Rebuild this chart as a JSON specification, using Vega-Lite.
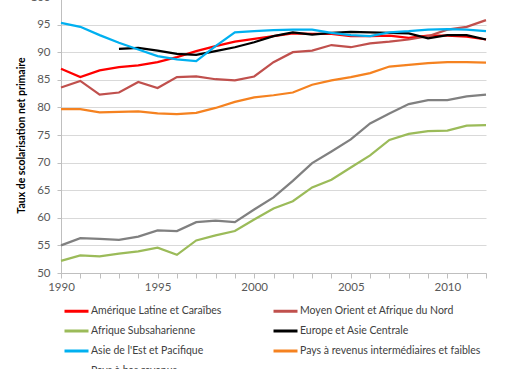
{
  "$schema": "https://vega.github.io/schema/vega-lite/v6.json",
  "width": 425,
  "height": 276,
  "autosize": {"type": "none"},
  "padding": {"left": 61, "top": -3, "right": 24, "bottom": 96},
  "background": "#ffffff",
  "config": {
    "view": {"stroke": null},
    "font": "Lato",
    "axis": {"labelFont": "Lato", "titleFont": "Lato", "labelColor": "#595959", "labelFontSize": 12}
  },
  "datasets": {
    "d": [
      {"region": "Amérique Latine et Caraïbes", "year": 1990, "value": 87.0},
      {"region": "Amérique Latine et Caraïbes", "year": 1991, "value": 85.5},
      {"region": "Amérique Latine et Caraïbes", "year": 1992, "value": 86.7},
      {"region": "Amérique Latine et Caraïbes", "year": 1993, "value": 87.3},
      {"region": "Amérique Latine et Caraïbes", "year": 1994, "value": 87.6},
      {"region": "Amérique Latine et Caraïbes", "year": 1995, "value": 88.2},
      {"region": "Amérique Latine et Caraïbes", "year": 1996, "value": 89.1},
      {"region": "Amérique Latine et Caraïbes", "year": 1997, "value": 90.2},
      {"region": "Amérique Latine et Caraïbes", "year": 1998, "value": 91.1},
      {"region": "Amérique Latine et Caraïbes", "year": 1999, "value": 91.9},
      {"region": "Amérique Latine et Caraïbes", "year": 2000, "value": 92.4},
      {"region": "Amérique Latine et Caraïbes", "year": 2001, "value": 92.9},
      {"region": "Amérique Latine et Caraïbes", "year": 2002, "value": 93.4},
      {"region": "Amérique Latine et Caraïbes", "year": 2003, "value": 93.3},
      {"region": "Amérique Latine et Caraïbes", "year": 2004, "value": 93.3},
      {"region": "Amérique Latine et Caraïbes", "year": 2005, "value": 92.9},
      {"region": "Amérique Latine et Caraïbes", "year": 2006, "value": 92.9},
      {"region": "Amérique Latine et Caraïbes", "year": 2007, "value": 93.0},
      {"region": "Amérique Latine et Caraïbes", "year": 2008, "value": 92.6},
      {"region": "Amérique Latine et Caraïbes", "year": 2009, "value": 93.0},
      {"region": "Amérique Latine et Caraïbes", "year": 2010, "value": 93.0},
      {"region": "Amérique Latine et Caraïbes", "year": 2011, "value": 92.8},
      {"region": "Amérique Latine et Caraïbes", "year": 2012, "value": 92.3},

      {"region": "Moyen Orient et Afrique du Nord", "year": 1990, "value": 83.6},
      {"region": "Moyen Orient et Afrique du Nord", "year": 1991, "value": 84.8},
      {"region": "Moyen Orient et Afrique du Nord", "year": 1992, "value": 82.3},
      {"region": "Moyen Orient et Afrique du Nord", "year": 1993, "value": 82.7},
      {"region": "Moyen Orient et Afrique du Nord", "year": 1994, "value": 84.6},
      {"region": "Moyen Orient et Afrique du Nord", "year": 1995, "value": 83.5},
      {"region": "Moyen Orient et Afrique du Nord", "year": 1996, "value": 85.5},
      {"region": "Moyen Orient et Afrique du Nord", "year": 1997, "value": 85.6},
      {"region": "Moyen Orient et Afrique du Nord", "year": 1998, "value": 85.1},
      {"region": "Moyen Orient et Afrique du Nord", "year": 1999, "value": 84.9},
      {"region": "Moyen Orient et Afrique du Nord", "year": 2000, "value": 85.6},
      {"region": "Moyen Orient et Afrique du Nord", "year": 2001, "value": 88.2},
      {"region": "Moyen Orient et Afrique du Nord", "year": 2002, "value": 90.0},
      {"region": "Moyen Orient et Afrique du Nord", "year": 2003, "value": 90.3},
      {"region": "Moyen Orient et Afrique du Nord", "year": 2004, "value": 91.3},
      {"region": "Moyen Orient et Afrique du Nord", "year": 2005, "value": 90.9},
      {"region": "Moyen Orient et Afrique du Nord", "year": 2006, "value": 91.6},
      {"region": "Moyen Orient et Afrique du Nord", "year": 2007, "value": 91.9},
      {"region": "Moyen Orient et Afrique du Nord", "year": 2008, "value": 92.3},
      {"region": "Moyen Orient et Afrique du Nord", "year": 2009, "value": 92.9},
      {"region": "Moyen Orient et Afrique du Nord", "year": 2010, "value": 94.1},
      {"region": "Moyen Orient et Afrique du Nord", "year": 2011, "value": 94.6},
      {"region": "Moyen Orient et Afrique du Nord", "year": 2012, "value": 95.8},

      {"region": "Afrique Subsaharienne", "year": 1990, "value": 52.2},
      {"region": "Afrique Subsaharienne", "year": 1991, "value": 53.2},
      {"region": "Afrique Subsaharienne", "year": 1992, "value": 53.0},
      {"region": "Afrique Subsaharienne", "year": 1993, "value": 53.5},
      {"region": "Afrique Subsaharienne", "year": 1994, "value": 53.9},
      {"region": "Afrique Subsaharienne", "year": 1995, "value": 54.6},
      {"region": "Afrique Subsaharienne", "year": 1996, "value": 53.3},
      {"region": "Afrique Subsaharienne", "year": 1997, "value": 55.9},
      {"region": "Afrique Subsaharienne", "year": 1998, "value": 56.8},
      {"region": "Afrique Subsaharienne", "year": 1999, "value": 57.6},
      {"region": "Afrique Subsaharienne", "year": 2000, "value": 59.7},
      {"region": "Afrique Subsaharienne", "year": 2001, "value": 61.7},
      {"region": "Afrique Subsaharienne", "year": 2002, "value": 63.0},
      {"region": "Afrique Subsaharienne", "year": 2003, "value": 65.5},
      {"region": "Afrique Subsaharienne", "year": 2004, "value": 66.9},
      {"region": "Afrique Subsaharienne", "year": 2005, "value": 69.1},
      {"region": "Afrique Subsaharienne", "year": 2006, "value": 71.3},
      {"region": "Afrique Subsaharienne", "year": 2007, "value": 74.1},
      {"region": "Afrique Subsaharienne", "year": 2008, "value": 75.2},
      {"region": "Afrique Subsaharienne", "year": 2009, "value": 75.7},
      {"region": "Afrique Subsaharienne", "year": 2010, "value": 75.8},
      {"region": "Afrique Subsaharienne", "year": 2011, "value": 76.7},
      {"region": "Afrique Subsaharienne", "year": 2012, "value": 76.8},

      {"region": "Europe et Asie Centrale", "year": 1993, "value": 90.6},
      {"region": "Europe et Asie Centrale", "year": 1994, "value": 90.8},
      {"region": "Europe et Asie Centrale", "year": 1995, "value": 90.3},
      {"region": "Europe et Asie Centrale", "year": 1996, "value": 89.7},
      {"region": "Europe et Asie Centrale", "year": 1997, "value": 89.5},
      {"region": "Europe et Asie Centrale", "year": 1998, "value": 90.2},
      {"region": "Europe et Asie Centrale", "year": 1999, "value": 90.9},
      {"region": "Europe et Asie Centrale", "year": 2000, "value": 91.8},
      {"region": "Europe et Asie Centrale", "year": 2001, "value": 92.9},
      {"region": "Europe et Asie Centrale", "year": 2002, "value": 93.6},
      {"region": "Europe et Asie Centrale", "year": 2003, "value": 93.2},
      {"region": "Europe et Asie Centrale", "year": 2004, "value": 93.5},
      {"region": "Europe et Asie Centrale", "year": 2005, "value": 93.7},
      {"region": "Europe et Asie Centrale", "year": 2006, "value": 93.6},
      {"region": "Europe et Asie Centrale", "year": 2007, "value": 93.5},
      {"region": "Europe et Asie Centrale", "year": 2008, "value": 93.4},
      {"region": "Europe et Asie Centrale", "year": 2009, "value": 92.5},
      {"region": "Europe et Asie Centrale", "year": 2010, "value": 93.1},
      {"region": "Europe et Asie Centrale", "year": 2011, "value": 93.1},
      {"region": "Europe et Asie Centrale", "year": 2012, "value": 92.3},

      {"region": "Asie de l'Est et Pacifique", "year": 1990, "value": 95.3},
      {"region": "Asie de l'Est et Pacifique", "year": 1991, "value": 94.6},
      {"region": "Asie de l'Est et Pacifique", "year": 1992, "value": 93.1},
      {"region": "Asie de l'Est et Pacifique", "year": 1993, "value": 91.7},
      {"region": "Asie de l'Est et Pacifique", "year": 1994, "value": 90.5},
      {"region": "Asie de l'Est et Pacifique", "year": 1995, "value": 89.3},
      {"region": "Asie de l'Est et Pacifique", "year": 1996, "value": 88.7},
      {"region": "Asie de l'Est et Pacifique", "year": 1997, "value": 88.4},
      {"region": "Asie de l'Est et Pacifique", "year": 1998, "value": 91.1},
      {"region": "Asie de l'Est et Pacifique", "year": 1999, "value": 93.6},
      {"region": "Asie de l'Est et Pacifique", "year": 2000, "value": 93.8},
      {"region": "Asie de l'Est et Pacifique", "year": 2001, "value": 94.0},
      {"region": "Asie de l'Est et Pacifique", "year": 2002, "value": 94.1},
      {"region": "Asie de l'Est et Pacifique", "year": 2003, "value": 94.1},
      {"region": "Asie de l'Est et Pacifique", "year": 2004, "value": 93.5},
      {"region": "Asie de l'Est et Pacifique", "year": 2005, "value": 93.1},
      {"region": "Asie de l'Est et Pacifique", "year": 2006, "value": 92.9},
      {"region": "Asie de l'Est et Pacifique", "year": 2007, "value": 93.6},
      {"region": "Asie de l'Est et Pacifique", "year": 2008, "value": 93.8},
      {"region": "Asie de l'Est et Pacifique", "year": 2009, "value": 94.1},
      {"region": "Asie de l'Est et Pacifique", "year": 2010, "value": 94.2},
      {"region": "Asie de l'Est et Pacifique", "year": 2011, "value": 94.1},
      {"region": "Asie de l'Est et Pacifique", "year": 2012, "value": 93.8},

      {"region": "Pays à revenus intermédiaires et faibles", "year": 1990, "value": 79.7},
      {"region": "Pays à revenus intermédiaires et faibles", "year": 1991, "value": 79.7},
      {"region": "Pays à revenus intermédiaires et faibles", "year": 1992, "value": 79.1},
      {"region": "Pays à revenus intermédiaires et faibles", "year": 1993, "value": 79.2},
      {"region": "Pays à revenus intermédiaires et faibles", "year": 1994, "value": 79.3},
      {"region": "Pays à revenus intermédiaires et faibles", "year": 1995, "value": 78.9},
      {"region": "Pays à revenus intermédiaires et faibles", "year": 1996, "value": 78.8},
      {"region": "Pays à revenus intermédiaires et faibles", "year": 1997, "value": 79.0},
      {"region": "Pays à revenus intermédiaires et faibles", "year": 1998, "value": 79.9},
      {"region": "Pays à revenus intermédiaires et faibles", "year": 1999, "value": 81.0},
      {"region": "Pays à revenus intermédiaires et faibles", "year": 2000, "value": 81.8},
      {"region": "Pays à revenus intermédiaires et faibles", "year": 2001, "value": 82.2},
      {"region": "Pays à revenus intermédiaires et faibles", "year": 2002, "value": 82.7},
      {"region": "Pays à revenus intermédiaires et faibles", "year": 2003, "value": 84.1},
      {"region": "Pays à revenus intermédiaires et faibles", "year": 2004, "value": 84.9},
      {"region": "Pays à revenus intermédiaires et faibles", "year": 2005, "value": 85.5},
      {"region": "Pays à revenus intermédiaires et faibles", "year": 2006, "value": 86.2},
      {"region": "Pays à revenus intermédiaires et faibles", "year": 2007, "value": 87.4},
      {"region": "Pays à revenus intermédiaires et faibles", "year": 2008, "value": 87.7},
      {"region": "Pays à revenus intermédiaires et faibles", "year": 2009, "value": 88.0},
      {"region": "Pays à revenus intermédiaires et faibles", "year": 2010, "value": 88.2},
      {"region": "Pays à revenus intermédiaires et faibles", "year": 2011, "value": 88.2},
      {"region": "Pays à revenus intermédiaires et faibles", "year": 2012, "value": 88.1},

      {"region": "Pays à bas revenus", "year": 1990, "value": 55.0},
      {"region": "Pays à bas revenus", "year": 1991, "value": 56.3},
      {"region": "Pays à bas revenus", "year": 1992, "value": 56.2},
      {"region": "Pays à bas revenus", "year": 1993, "value": 56.0},
      {"region": "Pays à bas revenus", "year": 1994, "value": 56.6},
      {"region": "Pays à bas revenus", "year": 1995, "value": 57.7},
      {"region": "Pays à bas revenus", "year": 1996, "value": 57.6},
      {"region": "Pays à bas revenus", "year": 1997, "value": 59.2},
      {"region": "Pays à bas revenus", "year": 1998, "value": 59.5},
      {"region": "Pays à bas revenus", "year": 1999, "value": 59.2},
      {"region": "Pays à bas revenus", "year": 2000, "value": 61.5},
      {"region": "Pays à bas revenus", "year": 2001, "value": 63.7},
      {"region": "Pays à bas revenus", "year": 2002, "value": 66.7},
      {"region": "Pays à bas revenus", "year": 2003, "value": 69.9},
      {"region": "Pays à bas revenus", "year": 2004, "value": 72.0},
      {"region": "Pays à bas revenus", "year": 2005, "value": 74.2},
      {"region": "Pays à bas revenus", "year": 2006, "value": 77.1},
      {"region": "Pays à bas revenus", "year": 2007, "value": 78.9},
      {"region": "Pays à bas revenus", "year": 2008, "value": 80.6},
      {"region": "Pays à bas revenus", "year": 2009, "value": 81.3},
      {"region": "Pays à bas revenus", "year": 2010, "value": 81.3},
      {"region": "Pays à bas revenus", "year": 2011, "value": 82.0},
      {"region": "Pays à bas revenus", "year": 2012, "value": 82.3}
    ]
  },
  "data": {"name": "d"},
  "mark": {"type": "line", "strokeWidth": 2.25, "clip": false},
  "encoding": {
    "x": {
      "field": "year",
      "type": "quantitative",
      "scale": {"domain": [1990, 2012], "nice": false, "zero": false},
      "axis": {
        "title": null,
        "values": [1990,1991,1992,1993,1994,1995,1996,1997,1998,1999,2000,2001,2002,2003,2004,2005,2006,2007,2008,2009,2010,2011,2012],
        "labelExpr": "datum.value % 5 === 0 ? datum.label : ''",
        "format": "d",
        "grid": false,
        "domainColor": "#BFBFBF",
        "tickColor": "#BFBFBF",
        "tickSize": 5,
        "labelPadding": 3,
        "labelFontSize": 11.5,
        "labelFlush": false,
        "labelOverlap": false
      }
    },
    "y": {
      "field": "value",
      "type": "quantitative",
      "scale": {"domain": [50, 100], "nice": false, "zero": false},
      "axis": {
        "title": "Taux de scolarisation  net primaire",
        "titleFontSize": 10.5,
        "titleFontWeight": "bold",
        "titleColor": "#000000",
        "titlePadding": 3,
        "values": [50, 55, 60, 65, 70, 75, 80, 85, 90, 95, 100],
        "grid": true,
        "gridColor": "#D9D9D9",
        "ticks": true,
        "tickSize": 4,
        "tickColor": "#BFBFBF",
        "domainColor": "#BFBFBF",
        "labelPadding": 7,
        "labelFontSize": 11.5
      }
    },
    "color": {
      "field": "region",
      "type": "nominal",
      "scale": {
        "domain": ["Amérique Latine et Caraïbes", "Afrique Subsaharienne", "Asie de l'Est et Pacifique", "Pays à bas revenus", "Moyen Orient et Afrique du Nord", "Europe et Asie Centrale", "Pays à revenus intermédiaires et faibles"],
        "range": ["#FF0000", "#9BBB59", "#00B0F0", "#808080", "#C0504D", "#000000", "#F58220"]
      },
      "legend": {
        "title": null,
        "orient": "none",
        "legendX": 2,
        "legendY": 300.5,
        "columns": 2,
        "columnPadding": 45,
        "rowPadding": -3.6,
        "symbolType": "stroke",
        "symbolSize": 576,
        "symbolStrokeWidth": 3,
        "labelFont": "Lato",
        "labelFontSize": 10.5,
        "labelColor": "#404040",
        "labelOffset": 1,
        "labelLimit": 300
      }
    }
  }
}
